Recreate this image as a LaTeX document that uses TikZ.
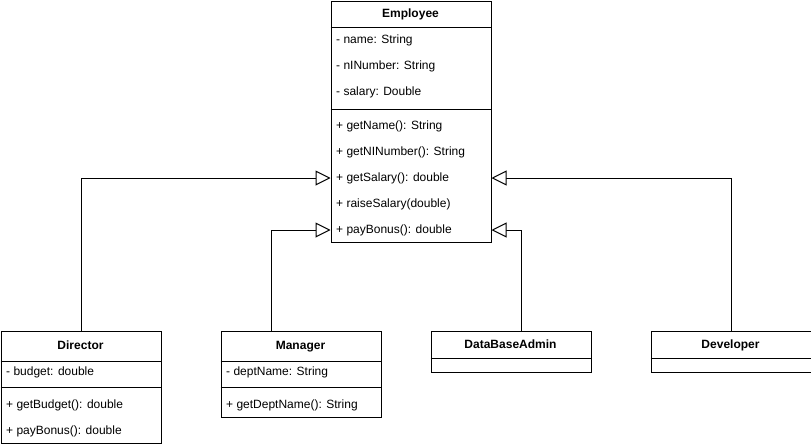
\documentclass[tikz,border=0pt]{standalone}
\usepackage{fontspec}
\setmainfont{Liberation Sans}
\usetikzlibrary{arrows.meta}

\begin{document}
\begin{tikzpicture}[x=1pt, y=-1pt,
  classbox/.style={draw, line width=1pt, minimum width=160pt, anchor=north west, inner sep=0pt},
  classtitle/.style={inner sep=0pt, text height=8.6pt, text depth=2.6pt, font=\fontsize{12}{14}\selectfont\bfseries},
  member/.style={anchor=west, inner sep=0pt, text height=8.6pt, text depth=2.6pt, font=\fontsize{12}{14}\selectfont},
  inherit/.style={line width=1pt, -{Triangle[open, length=15pt, width=15pt, fill=white]}}]
\useasboundingbox (0,0) rectangle (811,447);
%
% Employee
\node[classbox, minimum height=241pt] (emp) at (330.5,1) {};
\node[classtitle] (empt) at (410.5,14.5) {Employee};
\draw[line width=1pt] (330.5,27) -- (490.5,27);
\foreach \txt [count=\i] in {{- name: String}, {- nINumber: String}, {- salary: Double}} {
    \node[member] (empa\i) at (336,14+26*\i) {\txt};
}
\draw[line width=1pt] (330.5,109) -- (490.5,109);
\foreach \txt [count=\i] in {{+ getName(): String}, {+ getNINumber(): String},
    {+ getSalary(): double}, {+ raiseSalary(double)}, {+ payBonus(): double}} {
    \node[member] (empm\i) at (336,100+26*\i) {\txt};
}
%
% Director
\node[classbox, minimum height=112pt] (dir) at (0.5,331) {};
\node[classtitle] (dirt) at (80.5,346) {Director};
\draw[line width=1pt] (0.5,361) -- (160.5,361);
\node[member] (dira1) at (6,372) {- budget: double};
\draw[line width=1pt] (0.5,387) -- (160.5,387);
\node[member] (dirm1) at (6,405) {+ getBudget(): double};
\node[member] (dirm2) at (6,431) {+ payBonus(): double};
%
% Manager
\node[classbox, minimum height=86pt] (man) at (220.5,331) {};
\node[classtitle] (mant) at (300.5,346) {Manager};
\draw[line width=1pt] (220.5,361) -- (380.5,361);
\node[member] (mana1) at (226,372) {- deptName: String};
\draw[line width=1pt] (220.5,387) -- (380.5,387);
\node[member] (manm1) at (226,405) {+ getDeptName(): String};
%
% DataBaseAdmin
\node[classbox, minimum height=40.5pt] (dba) at (430.5,331) {};
\node[classtitle] (dbat) at (510.5,345) {DataBaseAdmin};
\draw[line width=1pt] (430.5,358) -- (590.5,358);
%
% Developer
\node[classbox, minimum height=40.5pt] (dev) at (650.5,331) {};
\node[classtitle] (devt) at (730.5,345) {Developer};
\draw[line width=1pt] (650.5,358) -- (810.5,358);
%
% generalisations
\draw[inherit] (dir.north) |- (emp.west |- empm3);
\draw[inherit] ([xshift=-30pt]man.north) |- (emp.west |- empm5);
\draw[inherit] ([xshift=10pt]dba.north) |- (emp.east |- empm5);
\draw[inherit] (dev.north) |- (emp.east |- empm3);
\end{tikzpicture}
\end{document}
